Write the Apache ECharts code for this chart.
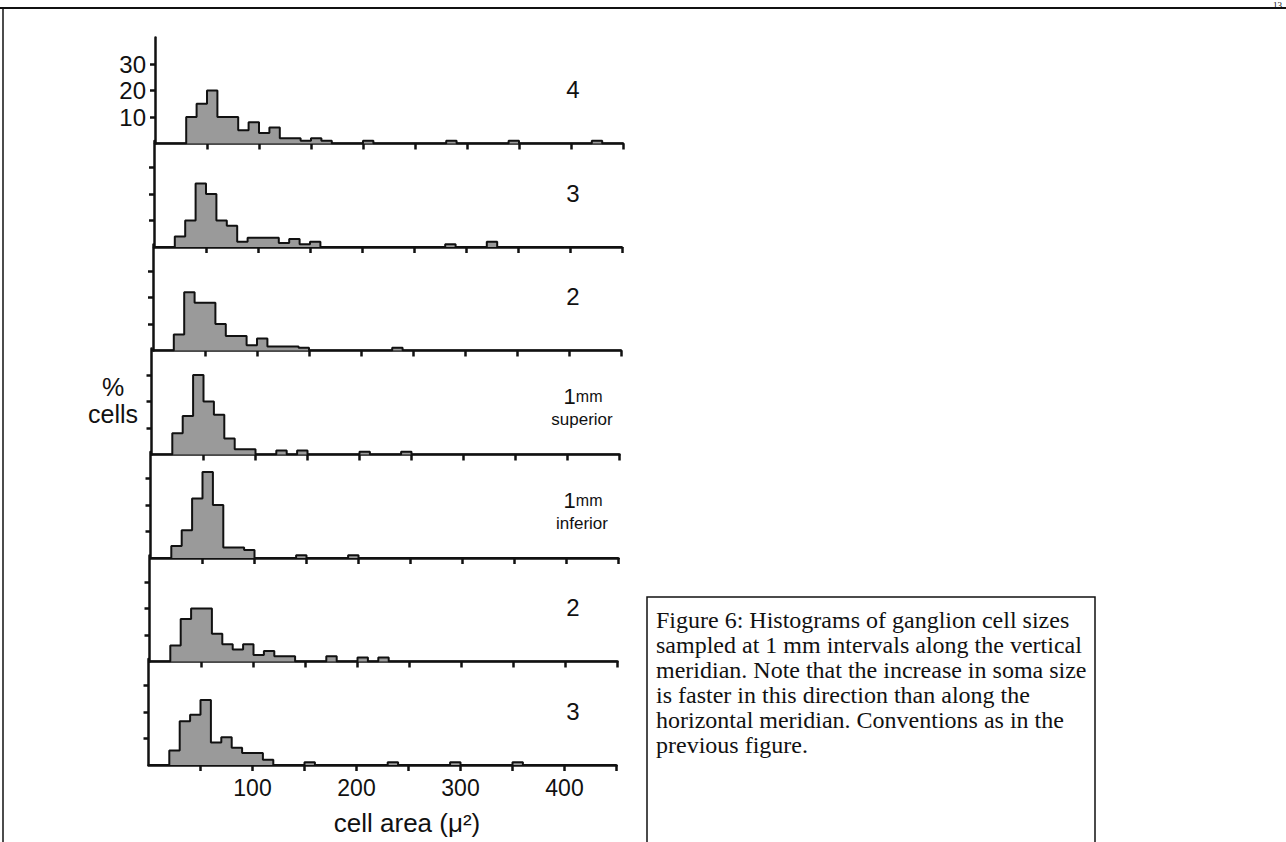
<!DOCTYPE html>
<html>
<head>
<meta charset="utf-8">
<title>Figure 6</title>
<script src="https://cdn.jsdelivr.net/npm/echarts@6/dist/echarts.min.js"></script>
<style>
  html, body { margin: 0; padding: 0; background: #fff; }
  #main { width: 1286px; height: 842px; }
</style>
</head>
<body>
<div id="main"></div>
<script>
// cell area bins are 10 um^2 wide, first bin 0-10, last 440-450
var binWidth = 10;
var xTickValues = [50, 100, 150, 200, 250, 300, 350, 400, 450];
var xLabelValues = [100, 200, 300, 400];
var yTickValues = [10, 20, 30];

// panel labels, top to bottom
var panelNames = ['4', '3', '2', '1mm superior', '1mm inferior', '2', '3'];

// % cells in each bin
var sup4 = [0, 0, 0, 10, 15, 20, 10, 10, 5, 8,
            4, 6, 2, 2, 1, 2, 1, 0, 0, 0,
            1, 0, 0, 0, 0, 0, 0, 0, 1, 0,
            0, 0, 0, 0, 1, 0, 0, 0, 0, 0,
            0, 0, 1, 0, 0];
var sup3 = [0, 0, 4, 10, 24, 20, 10, 8, 2, 3.5,
            3.5, 3.5, 1.5, 3, 1, 2, 0, 0, 0, 0,
            0, 0, 0, 0, 0, 0, 0, 0, 1, 0,
            0, 0, 2, 0, 0, 0, 0, 0, 0, 0,
            0, 0, 0, 0, 0];
var sup2 = [0, 0, 6, 22, 18, 18, 10, 5.5, 5.5, 2,
            4.5, 1.5, 1.5, 1.5, 1, 0, 0, 0, 0, 0,
            0, 0, 0, 1, 0, 0, 0, 0, 0, 0,
            0, 0, 0, 0, 0, 0, 0, 0, 0, 0,
            0, 0, 0, 0, 0];
var sup1 = [0, 0, 8, 14.5, 30, 20, 15, 6, 2, 2,
            0, 0, 1.5, 0, 1.5, 0, 0, 0, 0, 0,
            1, 0, 0, 0, 1, 0, 0, 0, 0, 0,
            0, 0, 0, 0, 0, 0, 0, 0, 0, 0,
            0, 0, 0, 0, 0];
var inf1 = [0, 0, 4.5, 10.5, 22.5, 32.5, 20, 4, 4, 3,
            0, 0, 0, 0, 1, 0, 0, 0, 0, 1,
            0, 0, 0, 0, 0, 0, 0, 0, 0, 0,
            0, 0, 0, 0, 0, 0, 0, 0, 0, 0,
            0, 0, 0, 0, 0];
var inf2 = [0, 0, 6, 16, 20, 20, 10.5, 6.5, 4.5, 6.5,
            2.5, 4, 2, 2, 0, 0, 0, 2, 0, 0,
            1.5, 0, 1.5, 0, 0, 0, 0, 0, 0, 0,
            0, 0, 0, 0, 0, 0, 0, 0, 0, 0,
            0, 0, 0, 0, 0];
var inf3 = [0, 0, 5.5, 16.5, 19, 24.5, 8.5, 10.5, 6.5, 4.5,
            4.5, 2, 0, 0, 0, 1, 0, 0, 0, 0,
            0, 0, 0, 1, 0, 0, 0, 0, 0, 1,
            0, 0, 0, 0, 0, 1, 0, 0, 0, 0,
            0, 0, 0, 0, 0];

var panels = [sup4, sup3, sup2, sup1, inf1, inf2, inf3];

var captionLines = [
  'Figure 6: Histograms of ganglion cell sizes',
  'sampled at 1 mm intervals along the vertical',
  'meridian. Note that the increase in soma size',
  'is faster in this direction than along the',
  'horizontal meridian. Conventions as in the',
  'previous figure.'
];

var myChart = echarts.init(document.getElementById('main'), null, { renderer: 'svg' });

// layout of the stacked panels (scan is slightly tilted, so lefts drift)
var baselines = [143.5, 247, 350.5, 454.5, 558, 661.5, 765];
var lefts = [155, 154, 153, 151.5, 150.5, 149.5, 148.5];
var plotW = 468;
var plotH = 106;
var sans = 'Liberation Sans, Arial, Helvetica, sans-serif';
var serif = 'Liberation Serif, Times New Roman, serif';

// bin heights -> step outline points
var toSteps = function (heights) {
  var pts = [];
  for (var i = 0; i < heights.length; i++) {
    pts.push([i * binWidth, heights[i]]);
  }
  pts.push([heights.length * binWidth, 0]);
  return pts;
};

var grids = [], xAxes = [], yAxes = [], series = [];
for (var i = 0; i < panels.length; i++) {
  var last = i === panels.length - 1;
  grids.push({ left: lefts[i], top: baselines[i] - plotH, width: plotW, height: plotH });
  xAxes.push({
    gridIndex: i, type: 'value', min: 0, max: 450, interval: 50,
    axisLine: { onZero: false, lineStyle: { color: '#111', width: 2.5 } },
    axisTick: { show: true, length: 6, lineStyle: { color: '#111', width: 2.5 }, customValues: xTickValues },
    axisLabel: {
      show: last, margin: 11, color: '#111', fontSize: 23, fontFamily: sans,
      customValues: xLabelValues
    },
    splitLine: { show: false }
  });
  yAxes.push({
    gridIndex: i, type: 'value', min: 0, max: 40, interval: 10,
    axisLine: { show: true, lineStyle: { color: '#111', width: 2.5 } },
    axisTick: { show: true, length: 5, lineStyle: { color: '#111', width: 2.5 }, customValues: yTickValues },
    axisLabel: {
      show: i === 0, margin: 9, color: '#111', fontSize: 24, fontFamily: sans,
      customValues: yTickValues
    },
    splitLine: { show: false }
  });
  series.push({
    type: 'line', xAxisIndex: i, yAxisIndex: i,
    step: 'end', symbol: 'none', silent: true,
    lineStyle: { color: '#111', width: 2 },
    areaStyle: { color: '#9a9a9a', opacity: 1 },
    data: toSteps(panels[i])
  });
}

// panel labels
var graphics = [];
for (var j = 0; j < panelNames.length; j++) {
  var nm = panelNames[j];
  if (nm.indexOf('mm') > 0) {
    var parts = nm.split(' ');
    graphics.push({
      type: 'text', x: 583, y: baselines[j] - 58,
      style: {
        text: '{a|1}{b|mm}',
        align: 'center', verticalAlign: 'middle',
        rich: {
          a: { fontSize: 22, fontFamily: sans, fill: '#111', lineHeight: 22 },
          b: { fontSize: 16, fontFamily: sans, fill: '#111', lineHeight: 22 }
        }
      }
    });
    graphics.push({
      type: 'text', x: 582, y: baselines[j] - 35,
      style: { text: parts[1], fontSize: 17, fontFamily: sans, fill: '#111', align: 'center', verticalAlign: 'middle' }
    });
  } else {
    graphics.push({
      type: 'text', x: 573, y: baselines[j] - 54,
      style: { text: nm, fontSize: 24, fontFamily: sans, fill: '#111', align: 'center', verticalAlign: 'middle' }
    });
  }
}

// axis titles
graphics.push({
  type: 'text', x: 113, y: 400,
  style: { text: '%\ncells', fontSize: 25, lineHeight: 27, fontFamily: sans, fill: '#111', align: 'center', verticalAlign: 'middle' }
});
graphics.push({
  type: 'text', x: 407, y: 823,
  style: { text: 'cell area (\u03bc\u00b2)', fontSize: 26, fontFamily: sans, fill: '#111', align: 'center', verticalAlign: 'middle' }
});

// page frame, page number and caption box
graphics.push({ type: 'line', shape: { x1: 0, y1: 8, x2: 1286, y2: 8 }, style: { stroke: '#111', lineWidth: 2 } });
graphics.push({ type: 'line', shape: { x1: 3, y1: 8, x2: 3, y2: 842 }, style: { stroke: '#111', lineWidth: 1.5 } });
graphics.push({
  type: 'text', x: 1282, y: 0,
  style: { text: '13', fontSize: 9, fontFamily: serif, fill: '#111', align: 'right', verticalAlign: 'top' }
});
graphics.push({
  type: 'rect', shape: { x: 647, y: 597, width: 448, height: 260 },
  style: { fill: 'none', stroke: '#111', lineWidth: 1.5 }
});
graphics.push({
  type: 'text', x: 656, y: 607,
  style: { text: captionLines.join('\n'), fontSize: 24, lineHeight: 25, fontFamily: serif, fill: '#111', align: 'left', verticalAlign: 'top' }
});

var option = {
  animation: false,
  backgroundColor: '#fff',
  grid: grids,
  xAxis: xAxes,
  yAxis: yAxes,
  series: series,
  graphic: graphics
};
myChart.setOption(option);
</script>
</body>
</html>
